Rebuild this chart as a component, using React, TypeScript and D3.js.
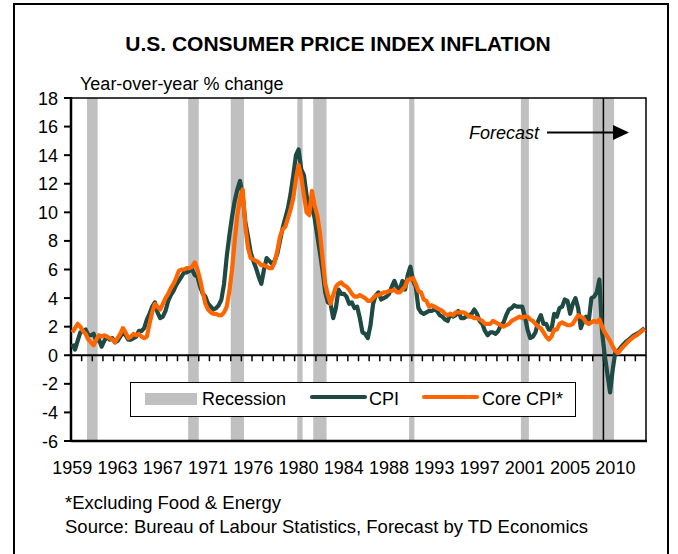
import React from "react";
import * as d3 from "d3";

// ---------- data ----------
const firstYear = 1959;
const lastYear = 2012;
const quarters: string[] = [];
for (let y = firstYear; y <= lastYear; y++) for (let q = 1; q <= 4; q++) quarters.push(`${y}Q${q}`);

// Year-over-year % change, quarterly 1959Q1 .. 2012Q4 (2009Q1 onward = forecast)
const cpi: number[] = [
  0.8, 0.4, 1.0, 1.6, // 1959
  1.7, 1.8, 1.4, 1.4, // 1960
  1.5, 1.0, 1.1, 0.6, // 1961
  1.0, 1.3, 1.1, 1.2, // 1962
  0.9, 1.0, 1.3, 1.6, // 1963
  1.4, 1.1, 1.1, 1.2, // 1964
  1.3, 1.7, 1.7, 1.9, // 1965
  2.5, 2.9, 3.4, 3.7, // 1966
  3.0, 2.6, 2.7, 3.1, // 1967
  3.8, 4.2, 4.5, 4.9, // 1968
  5.2, 5.5, 5.8, 5.8, // 1969
  5.9, 6.0, 5.6, 5.5, // 1970
  4.8, 4.3, 4.1, 3.6, // 1971
  3.4, 3.2, 3.3, 3.5, // 1972
  3.9, 5.0, 6.9, 8.4, // 1973
  9.7, 10.8, 11.6, 12.2, // 1974
  11.2, 9.3, 8.3, 7.2, // 1975
  6.6, 6.1, 5.5, 5.0, // 1976
  6.0, 6.8, 6.6, 6.4, // 1977
  6.6, 7.1, 8.0, 8.9, // 1978
  9.6, 10.3, 11.3, 12.6, // 1979
  14.0, 14.4, 13.0, 12.6, // 1980
  11.2, 9.9, 10.6, 9.6, // 1981
  8.4, 7.2, 5.9, 4.4, // 1982
  3.7, 3.6, 2.6, 3.3, // 1983
  4.6, 4.3, 4.3, 4.1, // 1984
  3.6, 3.7, 3.3, 3.4, // 1985
  2.6, 1.6, 1.5, 1.2, // 1986
  2.1, 3.6, 4.2, 4.4, // 1987
  3.9, 4.0, 4.1, 4.3, // 1988
  4.8, 5.2, 4.7, 4.6, // 1989
  5.2, 4.6, 5.6, 6.2, // 1990
  5.2, 4.8, 3.3, 3.0, // 1991
  2.9, 3.0, 3.1, 3.1, // 1992
  3.2, 3.1, 2.8, 2.7, // 1993
  2.5, 2.4, 2.9, 2.7, // 1994
  2.8, 3.1, 2.6, 2.6, // 1995
  2.7, 2.8, 2.9, 3.2, // 1996
  2.9, 2.4, 2.2, 1.7, // 1997
  1.4, 1.6, 1.6, 1.5, // 1998
  1.7, 2.1, 2.3, 2.8, // 1999
  3.2, 3.3, 3.5, 3.4, // 2000
  3.4, 3.4, 2.7, 1.8, // 2001
  1.2, 1.3, 1.6, 2.4, // 2002
  2.8, 2.2, 2.2, 1.8, // 2003
  1.8, 2.9, 2.7, 3.3, // 2004
  3.4, 3.9, 3.8, 2.9, // 2005
  3.6, 4.0, 3.3, 1.9, // 2006
  2.4, 2.7, 2.4, 4.0, // 2007
  4.1, 4.4, 5.3, 1.6, // 2008
  0.0, -1.3, -2.6, -1.0, // 2009
  0.25, 0.3, 0.55, 0.75, // 2010
  0.95, 1.1, 1.25, 1.4, // 2011
  1.5, 1.6, 1.75, 1.9, // 2012
];

const coreCpi: number[] = [
  1.6, 1.9, 2.2, 2.0, // 1959
  1.7, 1.5, 1.1, 0.9, // 1960
  0.7, 1.1, 1.4, 1.3, // 1961
  1.4, 1.3, 1.2, 1.1, // 1962
  0.9, 1.2, 1.5, 1.9, // 1963
  1.6, 1.2, 1.3, 1.5, // 1964
  1.4, 1.5, 1.3, 1.2, // 1965
  1.3, 2.2, 3.0, 3.6, // 1966
  3.4, 3.2, 3.6, 4.0, // 1967
  4.3, 4.7, 5.0, 5.4, // 1968
  5.9, 6.0, 6.0, 6.1, // 1969
  6.1, 6.2, 6.5, 6.0, // 1970
  5.3, 4.4, 3.6, 3.2, // 1971
  3.0, 2.9, 2.9, 2.8, // 1972
  2.8, 3.0, 3.4, 4.5, // 1973
  6.0, 8.0, 9.8, 11.0, // 1974
  11.6, 9.0, 7.5, 6.8, // 1975
  6.7, 6.6, 6.5, 6.3, // 1976
  6.3, 6.2, 6.1, 6.1, // 1977
  6.5, 7.3, 8.3, 8.8, // 1978
  9.0, 9.6, 10.2, 11.0, // 1979
  12.3, 13.3, 12.5, 11.2, // 1980
  10.0, 9.8, 11.5, 10.5, // 1981
  9.8, 8.6, 6.8, 5.0, // 1982
  4.2, 3.6, 4.2, 4.8, // 1983
  5.0, 5.1, 4.9, 4.8, // 1984
  4.6, 4.3, 4.1, 4.1, // 1985
  4.2, 4.1, 4.0, 3.8, // 1986
  3.8, 4.0, 4.2, 4.2, // 1987
  4.3, 4.4, 4.4, 4.5, // 1988
  4.5, 4.6, 4.4, 4.4, // 1989
  4.6, 4.8, 5.3, 5.3, // 1990
  5.4, 5.0, 4.5, 4.4, // 1991
  3.9, 3.8, 3.4, 3.5, // 1992
  3.4, 3.3, 3.2, 3.1, // 1993
  2.9, 2.8, 2.9, 2.8, // 1994
  3.0, 3.0, 3.0, 3.0, // 1995
  2.9, 2.7, 2.7, 2.6, // 1996
  2.6, 2.5, 2.4, 2.2, // 1997
  2.2, 2.2, 2.4, 2.3, // 1998
  2.2, 2.1, 2.0, 2.1, // 1999
  2.2, 2.4, 2.5, 2.6, // 2000
  2.7, 2.6, 2.7, 2.7, // 2001
  2.5, 2.4, 2.2, 2.0, // 2002
  1.9, 1.6, 1.3, 1.1, // 2003
  1.3, 1.8, 1.8, 2.2, // 2004
  2.3, 2.2, 2.1, 2.1, // 2005
  2.2, 2.5, 2.8, 2.7, // 2006
  2.6, 2.3, 2.2, 2.3, // 2007
  2.4, 2.3, 2.5, 2.0, // 2008
  1.6, 1.3, 1.0, 0.6, // 2009
  0.3, 0.15, 0.4, 0.6, // 2010
  0.8, 1.0, 1.15, 1.3, // 2011
  1.4, 1.55, 1.7, 1.85, // 2012
];

const recessions: [string, string][] = [
  ["1960Q3", "1961Q2"],
  ["1970Q1", "1970Q4"],
  ["1974Q1", "1975Q1"],
  ["1980Q2", "1980Q3"],
  ["1981Q4", "1982Q4"],
  ["1990Q4", "1991Q1"],
  ["2001Q2", "2001Q4"],
  ["2008Q1", "2009Q4"],
];

const forecastStart = "2009Q1";

const xTickLabels = [
  "1959Q1", "1963Q2", "1967Q3", "1971Q4", "1976Q1", "1980Q2", "1984Q3",
  "1988Q4", "1993Q1", "1997Q2", "2001Q3", "2005Q4", "2010Q1",
];
const yTicks = [18, 16, 14, 12, 10, 8, 6, 4, 2, 0, -2, -4, -6];

// ---------- layout ----------
const W = 678;
const H = 554;
const L = 71, R = 646, T = 98, B = 441;
const FONT = "'Liberation Sans', Arial, Helvetica, sans-serif";
const CPI_COLOR = "#1f4a44";
const CORE_COLOR = "#ff6600";
const REC_COLOR = "#c0c0c0";

export default function App() {
  const x = d3.scaleBand<string>().domain(quarters).range([L, R]).padding(0);
  const y = d3.scaleLinear().domain([-6, 18]).range([B, T]);
  const bw = x.bandwidth();
  const cx = (q: string) => (x(q) as number) + bw / 2;

  const line = d3
    .line<number>()
    .x((_, i) => cx(quarters[i]))
    .y((v) => y(v));

  const yearTicks = quarters.filter((q, i) => q.endsWith("Q1") && i > 0);
  const y0 = y(0);
  const fx = x(forecastStart) as number;

  return (
    <svg
      width={W}
      height={H}
      style={{ position: "absolute", left: 0, top: 0, background: "#fff" }}
      fontFamily={FONT}
    >
      <rect x={0} y={0} width={W} height={H} fill="#fff" />
      <rect x={14} y={4} width={654} height={570} fill="none" stroke="#000" strokeWidth={2} />

      <text x={338} y={51} textAnchor="middle" fontSize={21} fontWeight="bold">
        U.S. CONSUMER PRICE INDEX INFLATION
      </text>
      <text x={80} y={90} fontSize={18}>Year-over-year % change</text>

      {/* recession bars */}
      {recessions.map(([s, e], i) => (
        <rect
          key={i}
          x={x(s) as number}
          y={T}
          width={(x(e) as number) + bw - (x(s) as number)}
          height={B - T}
          fill={REC_COLOR}
        />
      ))}

      {/* plot frame */}
      <rect x={L} y={T} width={R - L} height={B - T} fill="none" stroke="#000" strokeWidth={1.5} />
      <line x1={L} x2={L} y1={T - 1} y2={B + 1} stroke="#000" strokeWidth={2.5} />
      <line x1={L} x2={R + 1} y1={B} y2={B} stroke="#000" strokeWidth={2.5} />

      {/* y ticks */}
      {yTicks.map((t) => (
        <g key={t}>
          <line x1={L - 7} x2={L} y1={y(t)} y2={y(t)} stroke="#000" strokeWidth={2} />
          <text x={58} y={y(t) + 6.5} textAnchor="end" fontSize={18}>
            {t}
          </text>
        </g>
      ))}

      {/* zero line with yearly ticks */}
      <line x1={L} x2={R} y1={y0} y2={y0} stroke="#000" strokeWidth={2} />
      {yearTicks.map((q) => (
        <line key={q} x1={x(q) as number} x2={x(q) as number} y1={y0} y2={y0 + 6} stroke="#000" strokeWidth={1.5} />
      ))}

      {/* x labels */}
      {xTickLabels.map((q) => (
        <text key={q} x={cx(q)} y={474} textAnchor="middle" fontSize={18}>
          {q.slice(0, 4)}
        </text>
      ))}

      {/* forecast divider */}
      <line x1={fx} x2={fx} y1={T} y2={B} stroke="#000" strokeWidth={1.5} />

      {/* series */}
      <path d={line(cpi) ?? ""} fill="none" stroke={CPI_COLOR} strokeWidth={4.2} strokeLinejoin="round" />
      <path d={line(coreCpi) ?? ""} fill="none" stroke={CORE_COLOR} strokeWidth={4.2} strokeLinejoin="round" />

      {/* forecast annotation */}
      <text x={469} y={139} fontSize={18} fontStyle="italic">Forecast</text>
      <line x1={547} x2={616} y1={132.5} y2={132.5} stroke="#000" strokeWidth={2} />
      <polygon points="613,125 629,132.5 613,140" fill="#000" />

      {/* legend */}
      <rect x={130.5} y={382.5} width={445} height={34} fill="#fff" stroke="#000" strokeWidth={1} />
      <rect x={145} y={393} width={52} height={12} fill={REC_COLOR} />
      <text x={202} y={405} fontSize={18}>Recession</text>
      <line x1={312} x2={365} y1={397} y2={397} stroke={CPI_COLOR} strokeWidth={4.2} strokeLinecap="round" />
      <text x={369} y={405} fontSize={18}>CPI</text>
      <line x1={424} x2={477} y1={397} y2={397} stroke={CORE_COLOR} strokeWidth={4.2} strokeLinecap="round" />
      <text x={482} y={405} fontSize={18}>Core CPI*</text>

      {/* footnotes */}
      <text x={65} y={509} fontSize={18.5}>*Excluding Food &amp; Energy</text>
      <text x={65} y={533} fontSize={18.5}>Source: Bureau of Labour Statistics, Forecast by TD Economics</text>
    </svg>
  );
}
